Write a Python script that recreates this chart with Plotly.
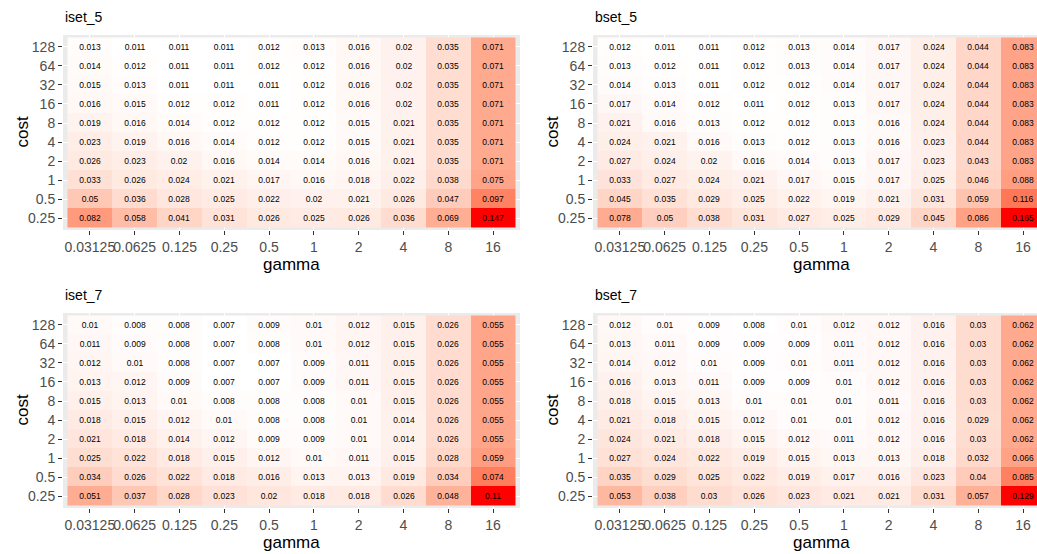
import plotly.graph_objects as go

gamma_labels = ["0.03125", "0.0625", "0.125", "0.25", "0.5", "1", "2", "4", "8", "16"]
cost_labels = ["0.25", "0.5", "1", "2", "4", "8", "16", "32", "64", "128"]

# rows ordered by cost ascending (0.25 ... 128), columns by gamma ascending
iset_5 = [
    [0.082, 0.058, 0.041, 0.031, 0.026, 0.025, 0.026, 0.036, 0.069, 0.147],
    [0.05, 0.036, 0.028, 0.025, 0.022, 0.02, 0.021, 0.026, 0.047, 0.097],
    [0.033, 0.026, 0.024, 0.021, 0.017, 0.016, 0.018, 0.022, 0.038, 0.075],
    [0.026, 0.023, 0.02, 0.016, 0.014, 0.014, 0.016, 0.021, 0.035, 0.071],
    [0.023, 0.019, 0.016, 0.014, 0.012, 0.012, 0.015, 0.021, 0.035, 0.071],
    [0.019, 0.016, 0.014, 0.012, 0.012, 0.012, 0.015, 0.021, 0.035, 0.071],
    [0.016, 0.015, 0.012, 0.012, 0.011, 0.012, 0.016, 0.02, 0.035, 0.071],
    [0.015, 0.013, 0.011, 0.011, 0.011, 0.012, 0.016, 0.02, 0.035, 0.071],
    [0.014, 0.012, 0.011, 0.011, 0.012, 0.012, 0.016, 0.02, 0.035, 0.071],
    [0.013, 0.011, 0.011, 0.011, 0.012, 0.013, 0.016, 0.02, 0.035, 0.071],
]
bset_5 = [
    [0.078, 0.05, 0.038, 0.031, 0.027, 0.025, 0.029, 0.045, 0.086, 0.165],
    [0.045, 0.035, 0.029, 0.025, 0.022, 0.019, 0.021, 0.031, 0.059, 0.116],
    [0.033, 0.027, 0.024, 0.021, 0.017, 0.015, 0.017, 0.025, 0.046, 0.088],
    [0.027, 0.024, 0.02, 0.016, 0.014, 0.013, 0.017, 0.023, 0.043, 0.083],
    [0.024, 0.021, 0.016, 0.013, 0.012, 0.013, 0.016, 0.023, 0.044, 0.083],
    [0.021, 0.016, 0.013, 0.012, 0.012, 0.013, 0.016, 0.024, 0.044, 0.083],
    [0.017, 0.014, 0.012, 0.011, 0.012, 0.013, 0.017, 0.024, 0.044, 0.083],
    [0.014, 0.013, 0.011, 0.012, 0.012, 0.014, 0.017, 0.024, 0.044, 0.083],
    [0.013, 0.012, 0.011, 0.012, 0.013, 0.014, 0.017, 0.024, 0.044, 0.083],
    [0.012, 0.011, 0.011, 0.012, 0.013, 0.014, 0.017, 0.024, 0.044, 0.083],
]
iset_7 = [
    [0.051, 0.037, 0.028, 0.023, 0.02, 0.018, 0.018, 0.026, 0.048, 0.11],
    [0.034, 0.026, 0.022, 0.018, 0.016, 0.013, 0.013, 0.019, 0.034, 0.074],
    [0.025, 0.022, 0.018, 0.015, 0.012, 0.01, 0.011, 0.015, 0.028, 0.059],
    [0.021, 0.018, 0.014, 0.012, 0.009, 0.009, 0.01, 0.014, 0.026, 0.055],
    [0.018, 0.015, 0.012, 0.01, 0.008, 0.008, 0.01, 0.014, 0.026, 0.055],
    [0.015, 0.013, 0.01, 0.008, 0.008, 0.008, 0.01, 0.015, 0.026, 0.055],
    [0.013, 0.012, 0.009, 0.007, 0.007, 0.009, 0.011, 0.015, 0.026, 0.055],
    [0.012, 0.01, 0.008, 0.007, 0.007, 0.009, 0.011, 0.015, 0.026, 0.055],
    [0.011, 0.009, 0.008, 0.007, 0.008, 0.01, 0.012, 0.015, 0.026, 0.055],
    [0.01, 0.008, 0.008, 0.007, 0.009, 0.01, 0.012, 0.015, 0.026, 0.055],
]
bset_7 = [
    [0.053, 0.038, 0.03, 0.026, 0.023, 0.021, 0.021, 0.031, 0.057, 0.129],
    [0.035, 0.029, 0.025, 0.022, 0.019, 0.017, 0.016, 0.023, 0.04, 0.085],
    [0.027, 0.024, 0.022, 0.019, 0.015, 0.013, 0.013, 0.018, 0.032, 0.066],
    [0.024, 0.021, 0.018, 0.015, 0.012, 0.011, 0.012, 0.016, 0.03, 0.062],
    [0.021, 0.018, 0.015, 0.012, 0.01, 0.01, 0.012, 0.016, 0.029, 0.062],
    [0.018, 0.015, 0.013, 0.01, 0.01, 0.01, 0.011, 0.016, 0.03, 0.062],
    [0.016, 0.013, 0.011, 0.009, 0.009, 0.01, 0.012, 0.016, 0.03, 0.062],
    [0.014, 0.012, 0.01, 0.009, 0.01, 0.011, 0.012, 0.016, 0.03, 0.062],
    [0.013, 0.011, 0.009, 0.009, 0.009, 0.011, 0.012, 0.016, 0.03, 0.062],
    [0.012, 0.01, 0.009, 0.008, 0.01, 0.012, 0.012, 0.016, 0.03, 0.062],
]
panel_titles = ["iset_5", "bset_5", "iset_7", "bset_7"]
panel_data = [iset_5, bset_5, iset_7, bset_7]


# white -> red gradient interpolated in CIE Lab (like ggplot's scale_fill_gradient)
def lab_to_rgb(L, a, b):
    fy = (L + 16) / 116
    fx = fy + a / 500
    fz = fy - b / 200

    def finv(t):
        return t ** 3 if t ** 3 > 0.008856 else (t - 16 / 116) / 7.787

    X = 0.95047 * finv(fx)
    Y = 1.0 * finv(fy)
    Z = 1.08883 * finv(fz)
    r = 3.2404542 * X - 1.5371385 * Y - 0.4985314 * Z
    g = -0.9692660 * X + 1.8760108 * Y + 0.0415560 * Z
    bb = 0.0556434 * X - 0.2040259 * Y + 1.0572252 * Z

    def gam(c):
        c = max(0.0, min(1.0, c))
        return 12.92 * c if c <= 0.0031308 else 1.055 * c ** (1 / 2.4) - 0.055

    return tuple(int(round(255 * gam(c))) for c in (r, g, bb))


lab_lo = (100.0, 0.0, 0.0)
lab_hi = (53.2408, 80.0925, 67.2032)
nstops = 21
colorscale = []
for i in range(nstops):
    t = i / (nstops - 1)
    lab = [lo + (hi - lo) * t for lo, hi in zip(lab_lo, lab_hi)]
    r, g, b = lab_to_rgb(*lab)
    colorscale.append([t, f"rgb({r},{g},{b})"])

W, H = 1037, 554
FONT = "Liberation Sans, Arial, sans-serif"

# panel pixel boxes: (left, right, top, bottom); right panels clipped by the window edge
boxes = [(63, 520, 35, 230), (593, 1050, 35, 230), (63, 520, 313, 508), (593, 1050, 313, 508)]


def px(v):
    return v / W


def py(v):
    return 1 - v / H


fig = go.Figure()
layout = dict(
    width=W, height=H, margin=dict(l=0, r=0, t=0, b=0),
    paper_bgcolor="white", plot_bgcolor="#EBEBEB",
    font=dict(family=FONT), showlegend=False,
)
annotations = []
for k, (title, data, box) in enumerate(zip(panel_titles, panel_data, boxes)):
    left, right, top, bottom = box
    n = k + 1
    xa = "x" if n == 1 else f"x{n}"
    ya = "y" if n == 1 else f"y{n}"
    flat = [v for row in data for v in row]
    fig.add_trace(go.Heatmap(
        z=data, x=gamma_labels, y=cost_labels,
        text=[[str(v) for v in row] for row in data],
        texttemplate="%{text}",
        textfont=dict(size=8.5, color="black", family=FONT),
        colorscale=colorscale, zmin=min(flat), zmax=max(flat),
        showscale=False, xaxis=xa, yaxis=ya, hoverinfo="skip",
    ))
    units_x = 10.2
    ppu = (right - left) / units_x
    vis_right = min(right, W)
    x_hi = -0.6 + (vis_right - left) / ppu
    xdom = [px(left), min(1.0, px(vis_right))]
    ydom = [py(bottom), py(top)]
    axis_common = dict(
        type="category", ticks="outside", ticklen=4, tickwidth=1, tickcolor="#333333",
        showgrid=True, gridcolor="white", gridwidth=1, zeroline=False, showline=False,
        tickfont=dict(size=14, color="#4D4D4D", family=FONT), fixedrange=True,
        tickangle=0,
    )
    layout["xaxis" if n == 1 else f"xaxis{n}"] = dict(
        axis_common, domain=xdom, anchor=ya, range=[-0.6, x_hi],
        categoryorder="array", categoryarray=gamma_labels,
    )
    layout["yaxis" if n == 1 else f"yaxis{n}"] = dict(
        axis_common, domain=ydom, anchor=xa, range=[-0.63, 9.63],
        categoryorder="array", categoryarray=cost_labels,
    )
    # panel title
    annotations.append(dict(
        text=title, x=px(left), y=py(top - 18), xref="paper", yref="paper",
        xanchor="left", yanchor="middle", showarrow=False,
        font=dict(size=14, color="black", family=FONT),
    ))
    # x axis title
    annotations.append(dict(
        text="gamma", x=px((left + right) / 2), y=py(bottom + 34),
        xref="paper", yref="paper", xanchor="center", yanchor="middle", showarrow=False,
        font=dict(size=17, color="black", family=FONT),
    ))
    # y axis title
    annotations.append(dict(
        text="cost", x=px(left - 41), y=py((top + bottom) / 2),
        xref="paper", yref="paper", xanchor="center", yanchor="middle", showarrow=False,
        textangle=-90, font=dict(size=17, color="black", family=FONT),
    ))

layout["annotations"] = annotations
fig.update_layout(**layout)
fig.write_html(
    "out.html",
    config={"displayModeBar": False},
    post_script="document.body.style.margin='0';document.body.style.overflow='hidden';",
)
